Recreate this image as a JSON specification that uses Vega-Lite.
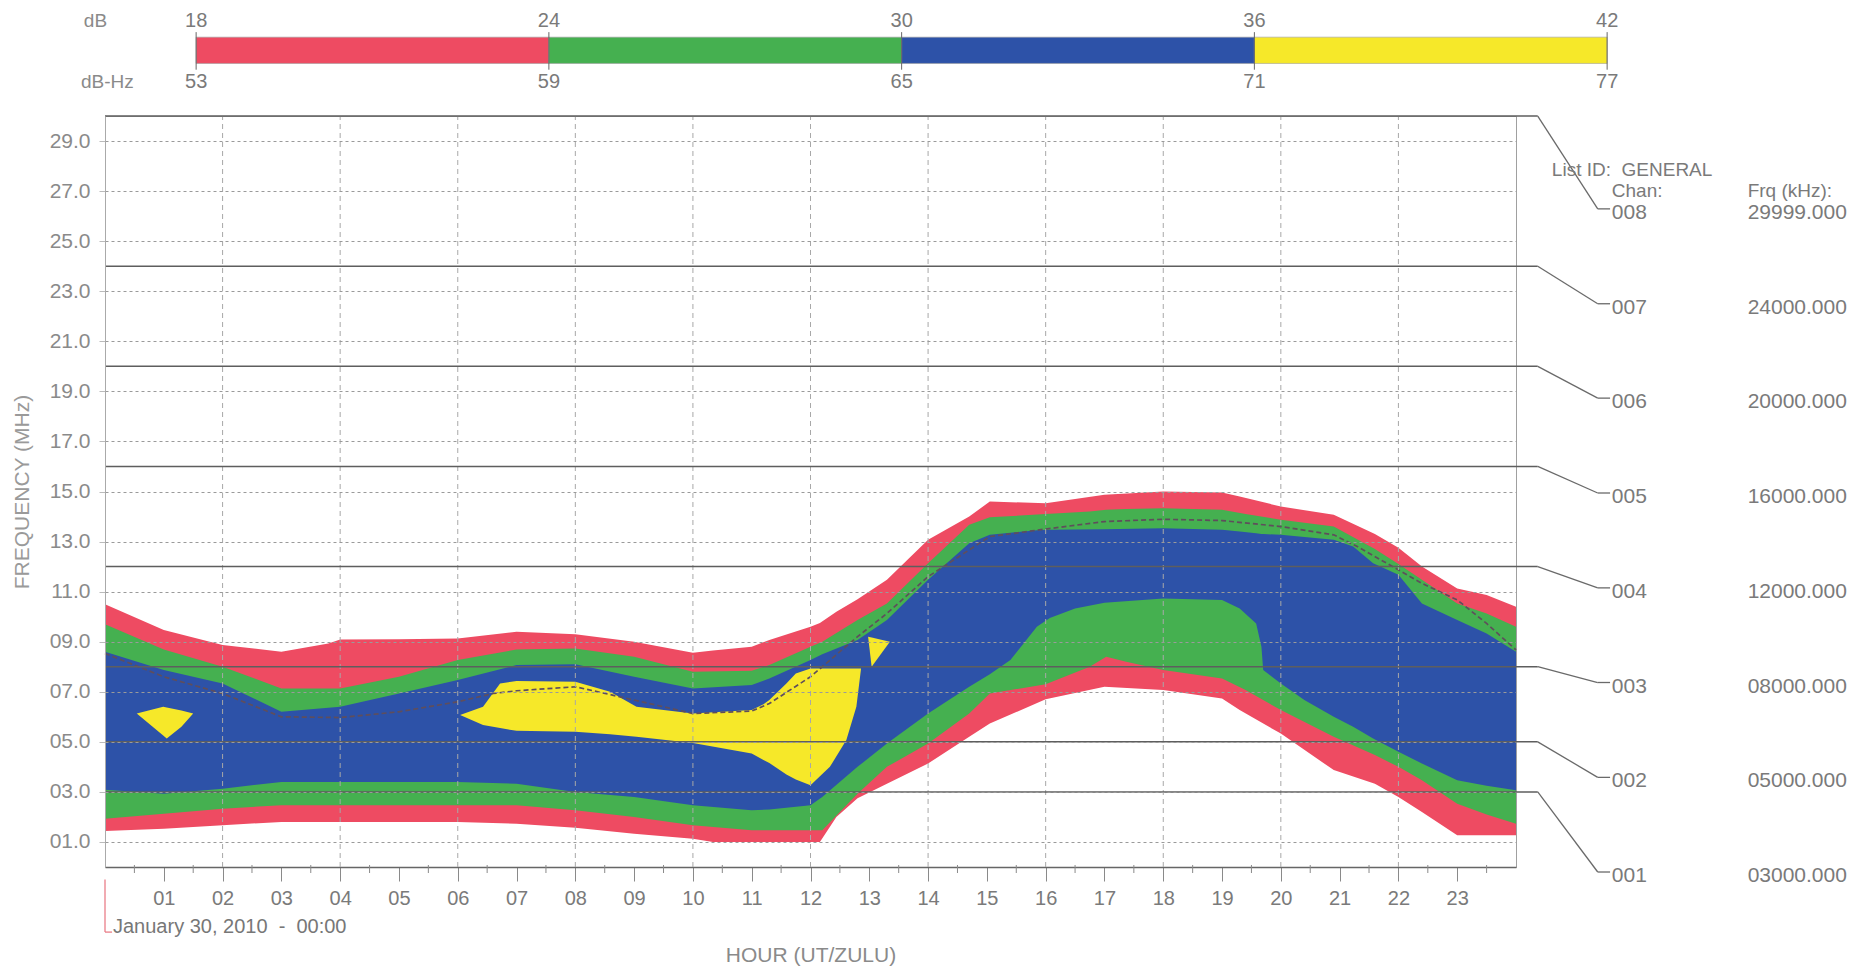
{
  "$schema": "https://vega.github.io/schema/vega-lite/v6.json",
  "width": 1411,
  "height": 751,
  "autosize": {"type": "none"},
  "padding": {"left": 105, "top": 116, "right": 355, "bottom": 102},
  "background": "white",
  "config": {
    "view": {"stroke": "#a0a0a0", "strokeWidth": 1},
    "font": "Liberation Sans",
    "text": {"font": "Liberation Sans"}
  },
  "datasets": {
    "red": [
      {"h":0,"lo":1.44,"hi":10.5},{"h":1,"lo":1.53,"hi":9.47},{"h":2,"lo":1.67,"hi":8.87},{"h":3,"lo":1.8,"hi":8.6},
      {"h":3.8,"lo":1.8,"hi":8.93},{"h":4,"lo":1.8,"hi":9.09},{"h":5,"lo":1.8,"hi":9.1},{"h":6,"lo":1.8,"hi":9.13},
      {"h":7,"lo":1.73,"hi":9.4},{"h":8,"lo":1.57,"hi":9.3},{"h":9,"lo":1.33,"hi":9.0},{"h":10,"lo":1.13,"hi":8.56},
      {"h":10.34,"lo":1.0,"hi":8.65},{"h":11,"lo":1.0,"hi":8.8},{"h":11.3,"lo":1.0,"hi":9.07},{"h":12,"lo":1.0,"hi":9.6},
      {"h":12.16,"lo":1.0,"hi":9.75},{"h":12.44,"lo":2.0,"hi":10.2},{"h":12.8,"lo":2.75,"hi":10.7},{"h":13.3,"lo":3.33,"hi":11.47},
      {"h":14,"lo":4.13,"hi":13.07},{"h":14.7,"lo":5.2,"hi":14.0},{"h":15.05,"lo":5.73,"hi":14.6},{"h":16,"lo":6.7,"hi":14.53},
      {"h":17,"lo":7.2,"hi":14.87},{"h":18,"lo":7.07,"hi":15.0},{"h":19,"lo":6.73,"hi":14.96},{"h":19.3,"lo":6.27,"hi":14.8},
      {"h":20,"lo":5.33,"hi":14.4},{"h":20.9,"lo":3.87,"hi":14.07},{"h":21.6,"lo":3.33,"hi":13.3},{"h":22,"lo":2.8,"hi":12.75},
      {"h":22.4,"lo":2.2,"hi":12.0},{"h":23,"lo":1.27,"hi":11.13},{"h":23.5,"lo":1.27,"hi":10.87},{"h":24,"lo":1.27,"hi":10.4}
    ],
    "green": [
      {"h":0,"lo":1.93,"hi":9.7},{"h":1,"lo":2.13,"hi":8.69},{"h":2,"lo":2.33,"hi":8.0},{"h":3,"lo":2.47,"hi":7.13},
      {"h":4,"lo":2.47,"hi":7.13},{"h":5,"lo":2.47,"hi":7.6},{"h":6,"lo":2.47,"hi":8.27},{"h":7,"lo":2.47,"hi":8.69},
      {"h":8,"lo":2.27,"hi":8.73},{"h":9,"lo":2.0,"hi":8.4},{"h":10,"lo":1.67,"hi":7.8},{"h":11,"lo":1.47,"hi":7.84},
      {"h":11.3,"lo":1.47,"hi":8.07},{"h":12,"lo":1.47,"hi":8.8},{"h":12.2,"lo":1.47,"hi":9.0},{"h":12.8,"lo":2.93,"hi":9.87},
      {"h":13.3,"lo":4.0,"hi":10.53},{"h":14,"lo":4.93,"hi":12.13},{"h":14.7,"lo":6.13,"hi":13.67},{"h":15.05,"lo":6.93,"hi":13.97},
      {"h":16,"lo":7.3,"hi":14.1},{"h":16.75,"lo":8.0,"hi":14.2},{"h":17.03,"lo":8.4,"hi":14.27},{"h":17.37,"lo":8.2,"hi":14.3},
      {"h":18,"lo":7.87,"hi":14.33},{"h":19,"lo":7.53,"hi":14.27},{"h":19.4,"lo":7.07,"hi":14.1},{"h":20,"lo":6.27,"hi":13.87},
      {"h":20.9,"lo":5.2,"hi":13.6},{"h":21.6,"lo":4.47,"hi":12.7},{"h":22,"lo":4.0,"hi":12.1},{"h":22.4,"lo":3.47,"hi":11.47},
      {"h":23,"lo":2.53,"hi":10.53},{"h":23.5,"lo":2.1,"hi":10.13},{"h":24,"lo":1.73,"hi":9.6}
    ],
    "blue": [
      {"h":0,"lo":3.09,"hi":8.6},{"h":1,"lo":2.93,"hi":7.87},{"h":2,"lo":3.13,"hi":7.33},{"h":3,"lo":3.4,"hi":6.2},
      {"h":4,"lo":3.4,"hi":6.4},{"h":5,"lo":3.4,"hi":6.93},{"h":6,"lo":3.4,"hi":7.47},{"h":7,"lo":3.33,"hi":8.07},
      {"h":8,"lo":3.0,"hi":8.1},{"h":9,"lo":2.8,"hi":7.6},{"h":10,"lo":2.47,"hi":7.13},{"h":11,"lo":2.27,"hi":7.27},
      {"h":11.3,"lo":2.3,"hi":7.53},{"h":12,"lo":2.47,"hi":8.27},{"h":12.2,"lo":2.8,"hi":8.5},{"h":12.8,"lo":4.0,"hi":9.07},
      {"h":13.3,"lo":4.93,"hi":9.87},{"h":14,"lo":6.13,"hi":11.47},{"h":14.7,"lo":7.2,"hi":12.93},{"h":15.05,"lo":7.7,"hi":13.27},
      {"h":15.4,"lo":8.27,"hi":13.35},{"h":15.85,"lo":9.6,"hi":13.45},{"h":16.07,"lo":9.95,"hi":13.47},{"h":16.5,"lo":10.33,"hi":13.48},
      {"h":17,"lo":10.56,"hi":13.49},{"h":18,"lo":10.73,"hi":13.53},{"h":19,"lo":10.67,"hi":13.47},{"h":19.3,"lo":10.33,"hi":13.4},
      {"h":19.58,"lo":9.73,"hi":13.33},{"h":19.67,"lo":8.8,"hi":13.3},{"h":19.7,"lo":7.87,"hi":13.3},{"h":20,"lo":7.33,"hi":13.27},
      {"h":20.4,"lo":6.67,"hi":13.18},{"h":20.9,"lo":6.0,"hi":13.07},{"h":21.23,"lo":5.6,"hi":12.8},{"h":21.57,"lo":5.13,"hi":12.13},
      {"h":22,"lo":4.6,"hi":11.67},{"h":22.4,"lo":4.13,"hi":10.53},{"h":23,"lo":3.47,"hi":9.87},{"h":23.5,"lo":3.25,"hi":9.33},
      {"h":24,"lo":3.07,"hi":8.6}
    ],
    "yellow": [
      {"blob":1,"h":0.54,"lo":6.13,"hi":6.13},{"blob":1,"h":0.99,"lo":5.25,"hi":6.4},{"blob":1,"h":1.05,"lo":5.13,"hi":6.37},
      {"blob":1,"h":1.3,"lo":5.6,"hi":6.25},{"blob":1,"h":1.5,"lo":6.13,"hi":6.13},
      {"blob":2,"h":6.04,"lo":6.07,"hi":6.07},{"blob":2,"h":6.43,"lo":5.67,"hi":6.4},{"blob":2,"h":6.72,"lo":5.55,"hi":7.33},
      {"blob":2,"h":7.0,"lo":5.44,"hi":7.43},{"blob":2,"h":8.0,"lo":5.4,"hi":7.4},{"blob":2,"h":8.59,"lo":5.3,"hi":7.0},
      {"blob":2,"h":9.04,"lo":5.2,"hi":6.4},{"blob":2,"h":10.0,"lo":4.95,"hi":6.13},{"blob":2,"h":11.0,"lo":4.53,"hi":6.27},
      {"blob":2,"h":11.2,"lo":4.27,"hi":6.5},{"blob":2,"h":11.3,"lo":4.15,"hi":6.67},{"blob":2,"h":11.59,"lo":3.7,"hi":7.33},
      {"blob":2,"h":11.75,"lo":3.5,"hi":7.73},{"blob":2,"h":12.0,"lo":3.27,"hi":7.93},{"blob":2,"h":12.33,"lo":4.0,"hi":7.93},
      {"blob":2,"h":12.61,"lo":5.07,"hi":7.93},{"blob":2,"h":12.78,"lo":6.4,"hi":7.93},{"blob":2,"h":12.86,"lo":7.93,"hi":7.93},
      {"blob":3,"h":12.98,"lo":9.2,"hi":9.2},{"blob":3,"h":13.04,"lo":8.0,"hi":9.17},{"blob":3,"h":13.35,"lo":9.0,"hi":9.0}
    ],
    "muf": [
      {"h":0,"f":8.53},{"h":1,"f":7.6},{"h":2,"f":6.93},{"h":3,"f":6.0},{"h":4,"f":5.97},{"h":5,"f":6.2},{"h":6,"f":6.6},
      {"h":6.6,"f":6.93},{"h":7,"f":7.04},{"h":8,"f":7.2},{"h":9,"f":6.67},{"h":10,"f":6.13},{"h":11,"f":6.23},{"h":11.3,"f":6.53},
      {"h":12,"f":7.6},{"h":12.8,"f":9.2},{"h":13.3,"f":10.13},{"h":14,"f":11.6},{"h":15.05,"f":13.2},{"h":16,"f":13.5},
      {"h":17,"f":13.8},{"h":18,"f":13.89},{"h":19,"f":13.84},{"h":20,"f":13.6},{"h":20.9,"f":13.27},{"h":21.3,"f":12.8},
      {"h":22,"f":11.87},{"h":22.4,"f":11.33},{"h":23,"f":10.67},{"h":23.5,"f":9.73},{"h":24,"f":8.67}
    ],
    "evenHours": [{"h":2},{"h":4},{"h":6},{"h":8},{"h":10},{"h":12},{"h":14},{"h":16},{"h":18},{"h":20},{"h":22}],
    "halfHours": [{"h":0.5},{"h":1.5},{"h":2.5},{"h":3.5},{"h":4.5},{"h":5.5},{"h":6.5},{"h":7.5},{"h":8.5},{"h":9.5},{"h":10.5},{"h":11.5},{"h":12.5},{"h":13.5},{"h":14.5},{"h":15.5},{"h":16.5},{"h":17.5},{"h":18.5},{"h":19.5},{"h":20.5},{"h":21.5},{"h":22.5},{"h":23.5}],
    "channels": [
      {"ch":"008","f":29.999,"khz":"29999.000","ly":26.29},
      {"ch":"007","f":24,"khz":"24000.000","ly":22.5},
      {"ch":"006","f":20,"khz":"20000.000","ly":18.73},
      {"ch":"005","f":16,"khz":"16000.000","ly":14.94},
      {"ch":"004","f":12,"khz":"12000.000","ly":11.15},
      {"ch":"003","f":8,"khz":"08000.000","ly":7.37},
      {"ch":"002","f":5,"khz":"05000.000","ly":3.58},
      {"ch":"001","f":3,"khz":"03000.000","ly":-0.2}
    ],
    "cbar": [
      {"db":18,"db2":24,"level":"18-24"},
      {"db":24,"db2":30,"level":"24-30"},
      {"db":30,"db2":36,"level":"30-36"},
      {"db":36,"db2":42,"level":"36-42"}
    ],
    "cbarLabels": [
      {"db":18,"hz":53},{"db":24,"hz":59},{"db":30,"hz":65},{"db":36,"hz":71},{"db":42,"hz":77}
    ]
  },
  "layer": [
    {
      "layer": [
        {
          "data": {"name": "red"},
          "mark": {"type": "area", "color": "#EE4B62", "opacity": 1},
          "encoding": {
            "x": {"field": "h", "type": "quantitative", "scale": {"domain": [0, 24], "nice": false, "zero": false},
              "axis": {"values": [1,2,3,4,5,6,7,8,9,10,11,12,13,14,15,16,17,18,19,20,21,22,23], "format": "02d",
                "title": "HOUR (UT/ZULU)", "grid": false, "tickSize": 14, "tickColor": "#8a8a8a", "tickWidth": 1,
                "domainColor": "#666666", "domainWidth": 1.5, "labelFontSize": 20, "labelColor": "#7a7a7a",
                "labelPadding": 7, "labelFlush": false, "labelOverlap": false, "titleFontSize": 21, "titleColor": "#8a8a8a",
                "titleFontWeight": "normal", "titlePadding": 36}},
            "y": {"field": "lo", "type": "quantitative", "scale": {"domain": [0, 30], "nice": false, "zero": false},
              "axis": {"values": [1,3,5,7,9,11,13,15,17,19,21,23,25,27,29], "format": "04.1f",
                "title": "FREQUENCY (MHz)", "grid": true, "gridDash": [3, 3], "gridColor": "#9a9a9a", "gridWidth": 1,
                "tickSize": 6, "tickColor": "#bbbbbb", "domainColor": "#aaaaaa", "labelFontSize": 21,
                "labelColor": "#8a8a8a", "labelPadding": 9, "titleFontSize": 21, "titleColor": "#9a9a9a",
                "titleFontWeight": "normal", "titlePadding": 17, "zindex": 1}},
            "y2": {"field": "hi"}
          }
        },
        {
          "data": {"name": "green"},
          "mark": {"type": "area", "color": "#45B050", "opacity": 1},
          "encoding": {
            "x": {"field": "h", "type": "quantitative"},
            "y": {"field": "lo", "type": "quantitative"},
            "y2": {"field": "hi"}
          }
        },
        {
          "data": {"name": "blue"},
          "mark": {"type": "area", "color": "#2D52A8", "opacity": 1},
          "encoding": {
            "x": {"field": "h", "type": "quantitative"},
            "y": {"field": "lo", "type": "quantitative"},
            "y2": {"field": "hi"}
          }
        },
        {
          "data": {"name": "yellow"},
          "mark": {"type": "area", "color": "#F6E829", "opacity": 1},
          "encoding": {
            "x": {"field": "h", "type": "quantitative"},
            "y": {"field": "lo", "type": "quantitative"},
            "y2": {"field": "hi"},
            "detail": {"field": "blob", "type": "nominal"}
          }
        },
        {
          "data": {"name": "muf"},
          "mark": {"type": "line", "color": "#5f4e5c", "strokeWidth": 1.7, "strokeDash": [5, 3]},
          "encoding": {
            "x": {"field": "h", "type": "quantitative"},
            "y": {"field": "f", "type": "quantitative"}
          }
        },
        {
          "data": {"name": "evenHours"},
          "mark": {"type": "rule", "color": "#a8a8a8", "strokeWidth": 1, "strokeDash": [5, 4]},
          "encoding": {
            "x": {"field": "h", "type": "quantitative"},
            "y": {"datum": 0},
            "y2": {"datum": 30}
          }
        },
        {
          "data": {"name": "halfHours"},
          "mark": {"type": "rule", "color": "#8a8a8a", "strokeWidth": 1},
          "encoding": {
            "x": {"field": "h", "type": "quantitative"},
            "y": {"datum": 0.08},
            "y2": {"datum": -0.24}
          }
        },
        {
          "data": {"name": "channels"},
          "mark": {"type": "rule", "color": "#5e5e5e", "strokeWidth": 1.5},
          "encoding": {
            "x": {"datum": 0},
            "x2": {"datum": 24.37},
            "y": {"field": "f", "type": "quantitative"}
          }
        },
        {
          "data": {"name": "channels"},
          "mark": {"type": "rule", "color": "#6a6a6a", "strokeWidth": 1.3},
          "encoding": {
            "x": {"datum": 24.37},
            "x2": {"datum": 25.39},
            "y": {"field": "f", "type": "quantitative"},
            "y2": {"field": "ly"}
          }
        },
        {
          "data": {"name": "channels"},
          "mark": {"type": "rule", "color": "#6a6a6a", "strokeWidth": 1.3},
          "encoding": {
            "x": {"datum": 25.39},
            "x2": {"datum": 25.6},
            "y": {"field": "ly", "type": "quantitative"}
          }
        },
        {
          "data": {"name": "channels"},
          "mark": {"type": "text", "align": "left", "baseline": "middle", "dy": 4, "fontSize": 21, "color": "#7a7a7a"},
          "encoding": {
            "x": {"datum": 25.63},
            "y": {"field": "ly", "type": "quantitative"},
            "text": {"field": "ch"}
          }
        },
        {
          "data": {"name": "channels"},
          "mark": {"type": "text", "align": "left", "baseline": "middle", "dy": 4, "fontSize": 21, "color": "#7a7a7a"},
          "encoding": {
            "x": {"datum": 27.94},
            "y": {"field": "ly", "type": "quantitative"},
            "text": {"field": "khz"}
          }
        },
        {
          "data": {"values": [{"label": "List ID:\u00a0\u00a0GENERAL"}]},
          "mark": {"type": "text", "align": "left", "baseline": "middle", "fontSize": 19, "color": "#7a7a7a"},
          "encoding": {"x": {"datum": 24.61}, "y": {"datum": 27.85}, "text": {"field": "label"}}
        },
        {
          "data": {"values": [{"label": "Chan:"}]},
          "mark": {"type": "text", "align": "left", "baseline": "middle", "fontSize": 19, "color": "#7a7a7a"},
          "encoding": {"x": {"datum": 25.63}, "y": {"datum": 27.02}, "text": {"field": "label"}}
        },
        {
          "data": {"values": [{"label": "Frq (kHz):"}]},
          "mark": {"type": "text", "align": "left", "baseline": "middle", "fontSize": 19, "color": "#7a7a7a"},
          "encoding": {"x": {"datum": 27.94}, "y": {"datum": 27.02}, "text": {"field": "label"}}
        },
        {
          "data": {"values": [{"label": "January 30, 2010\u00a0\u00a0-\u00a0\u00a000:00"}]},
          "mark": {"type": "text", "align": "left", "baseline": "middle", "fontSize": 20, "color": "#777777", "dx": 8},
          "encoding": {"x": {"datum": 0}, "y": {"datum": -2.41}, "text": {"field": "label"}}
        },
        {
          "data": {"values": [{"label": "bracket"}]},
          "mark": {"type": "rule", "color": "#e8737f", "strokeWidth": 1.2},
          "encoding": {"x": {"datum": 0}, "y": {"datum": -0.5}, "y2": {"datum": -2.6}}
        },
        {
          "data": {"values": [{"label": "bracket"}]},
          "mark": {"type": "rule", "color": "#e8737f", "strokeWidth": 1.2},
          "encoding": {"x": {"datum": 0}, "x2": {"datum": 0.12}, "y": {"datum": -2.6}}
        },
        {
          "data": {"values": [{"label": "dB"}]},
          "mark": {"type": "text", "align": "left", "baseline": "middle", "fontSize": 19, "color": "#8a8a8a"},
          "encoding": {"x": {"datum": -0.36}, "y": {"datum": 33.8}, "text": {"field": "label"}}
        },
        {
          "data": {"values": [{"label": "dB-Hz"}]},
          "mark": {"type": "text", "align": "left", "baseline": "middle", "fontSize": 19, "color": "#8a8a8a"},
          "encoding": {"x": {"datum": -0.41}, "y": {"datum": 31.35}, "text": {"field": "label"}}
        }
      ]
    },
    {
      "layer": [
        {
          "data": {"name": "cbar"},
          "mark": {"type": "rect", "stroke": "#9a9a9a", "strokeWidth": 0.6},
          "encoding": {
            "x": {"field": "db", "type": "quantitative", "scale": {"domain": [16.45, 40.45], "nice": false, "zero": false}, "axis": null},
            "x2": {"field": "db2"},
            "y": {"datum": 33.15},
            "y2": {"datum": 32.1},
            "color": {"field": "level", "type": "nominal", "legend": null,
              "scale": {"domain": ["18-24", "24-30", "30-36", "36-42"], "range": ["#EE4B62", "#45B050", "#2D52A8", "#F6E829"]}}
          }
        },
        {
          "data": {"name": "cbarLabels"},
          "mark": {"type": "rule", "color": "#666666", "strokeWidth": 1},
          "encoding": {
            "x": {"field": "db", "type": "quantitative"},
            "y": {"datum": 33.35},
            "y2": {"datum": 31.85}
          }
        },
        {
          "data": {"name": "cbarLabels"},
          "mark": {"type": "text", "align": "center", "baseline": "middle", "fontSize": 20, "color": "#7a7a7a"},
          "encoding": {
            "x": {"field": "db", "type": "quantitative"},
            "y": {"datum": 33.8},
            "text": {"field": "db"}
          }
        },
        {
          "data": {"name": "cbarLabels"},
          "mark": {"type": "text", "align": "center", "baseline": "middle", "fontSize": 20, "color": "#7a7a7a"},
          "encoding": {
            "x": {"field": "db", "type": "quantitative"},
            "y": {"datum": 31.35},
            "text": {"field": "hz"}
          }
        }
      ]
    }
  ],
  "resolve": {"scale": {"x": "independent", "color": "independent"}, "axis": {"x": "independent"}}
}
